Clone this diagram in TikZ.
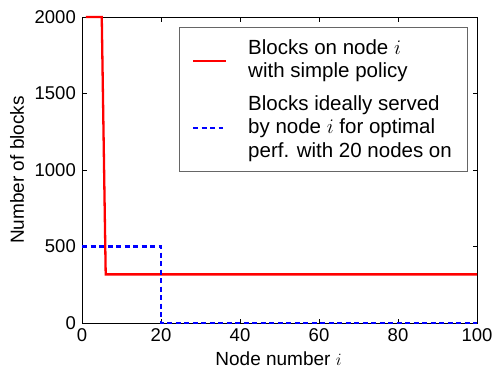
\documentclass[tikz,border=0pt]{standalone}
\usepackage{fontspec}
\setmainfont{Liberation Sans}
\begin{document}
\begin{tikzpicture}[x=1pt,y=1pt,
  axisline/.style={line width=0.9pt, black},
  tickmark/.style={line width=0.8pt, black},
  ticklbl/.style={inner sep=0pt, font=\fontsize{18.5}{21}\selectfont},
  redline/.style={line width=2.3pt, red},
  blueline/.style={line width=2.3pt, blue, dash pattern=on 5pt off 3.5pt},
  lgdtext/.style={inner sep=0pt, align=left, anchor=west, font=\fontsize{20.5}{23.5}\selectfont},
  axlbl/.style={inner sep=0pt, font=\fontsize{19}{22}\selectfont}]
\useasboundingbox (0,0) rectangle (497,368);
\fill[white] (0,0) rectangle (497,368);
\begin{scope}[shift={(82pt,45pt)}, x=3.95pt, y=0.153pt]
  % axes box
  \coordinate (ll) at (0,0);
  \coordinate (ur) at (100,2000);
  \draw[axisline] (ll) rectangle (ur);
  % ticks
  \foreach \xv in {20,40,60,80} {
    \draw[tickmark] (\xv,0) -- ++(0pt,4.5pt);
    \draw[tickmark] (\xv,2000) -- ++(0pt,-4.5pt);
  }
  \foreach \yv in {500,1000,1500} {
    \draw[tickmark] (0,\yv) -- ++(4.5pt,0pt);
    \draw[tickmark] (100,\yv) -- ++(-4.5pt,0pt);
  }
  \foreach \xv in {0,20,40,60,80,100}
    \node[ticklbl, anchor=north] (xl\xv) at ([yshift=-5pt]\xv,0) {\xv};
  \foreach \yv in {0,500,1000,1500,2000}
    \node[ticklbl, anchor=east] (yl\yv) at ([xshift=-6pt]0,\yv) {\yv};
  % data
  \coordinate (r1) at (1,2000);
  \coordinate (r2) at (5,2000);
  \coordinate (r3) at (6,318);
  \coordinate (r4) at (100,318);
  \draw[redline] (r1) -- (r2) -- (r3) -- (r4);
  \coordinate (b1) at (0,500);
  \coordinate (b2) at (20,500);
  \coordinate (b3) at (20,0);
  \coordinate (b4) at (100,0);
  \draw[blueline] (b1) -- (b2) -- (b3) -- (b4);
\end{scope}
% axis labels
\node[axlbl, anchor=base] (xlabel) at (278.5,3) {Node number $i$};
\node[axlbl, anchor=base, rotate=90] (ylabel) at (24,198) {Number of blocks};
% legend
\fill[white] (179,197) rectangle (467,341);
\draw[line width=0.9pt, black!60] (179,197) rectangle (467,341);
\coordinate (la) at (193,307.3);
\coordinate (lb) at (225.7,307.3);
\draw[redline] (la) -- (lb);
\coordinate (lc) at (193,239.7);
\coordinate (ld) at (223,239.7);
\draw[blueline] (lc) -- (ld);
\node[lgdtext] (t1) at (248,307.3) {Blocks on node $i$\\with simple policy};
\node[lgdtext] (t2) at (248,239.7) {Blocks ideally served\\by node $i$ for optimal\\perf. with 20 nodes on};
\end{tikzpicture}
\end{document}
